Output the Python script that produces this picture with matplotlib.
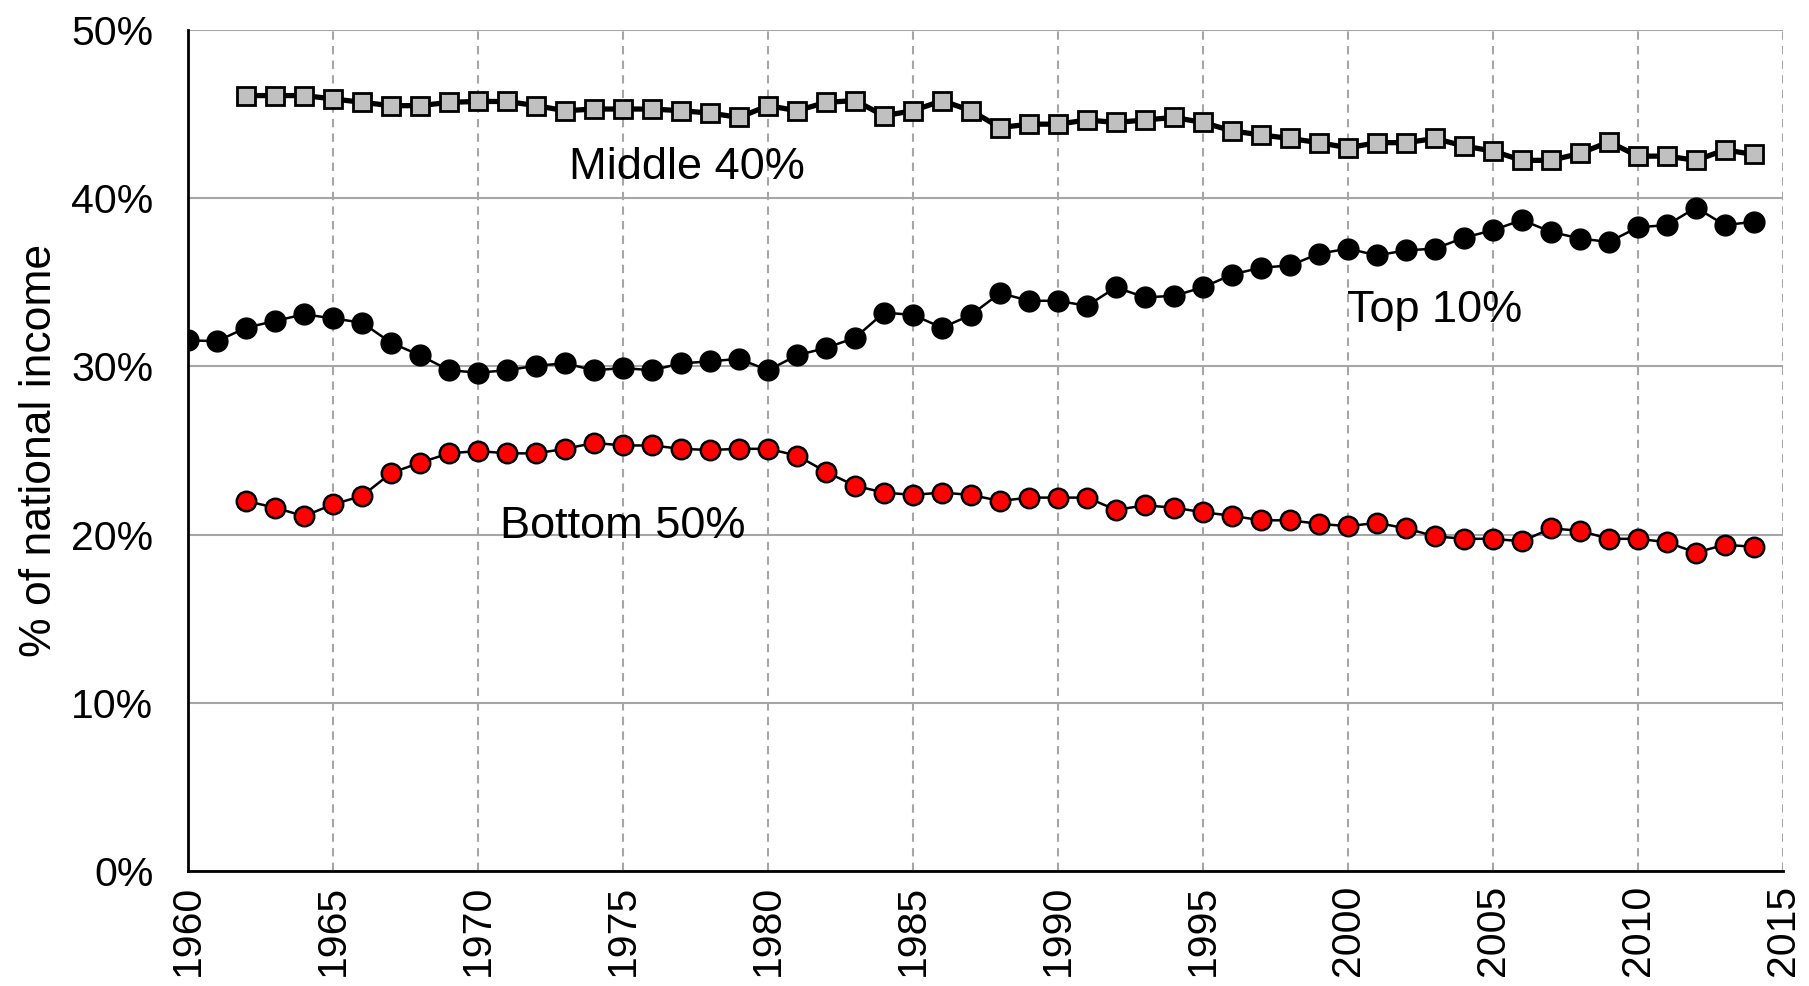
import numpy as np
from matplotlib import pyplot as plt
from matplotlib.ticker import FuncFormatter

plt.rcParams['font.family'] = ['Liberation Sans', 'DejaVu Sans']

years_top = list(range(1960, 2015))
top10 = [31.55, 31.5, 32.3, 32.7, 33.1, 32.85, 32.6, 31.4, 30.66, 29.77,
         29.63, 29.77, 30.04, 30.18, 29.77, 29.9, 29.77, 30.18, 30.3, 30.45,
         29.77, 30.66, 31.1, 31.7, 33.2, 33.06, 32.3, 33.06, 34.36, 33.9,
         33.9, 33.6, 34.7, 34.1, 34.2, 34.7, 35.46, 35.87, 36.0, 36.7,
         37.0, 36.6, 36.9, 37.0, 37.65, 38.1, 38.7, 38.0, 37.6, 37.4,
         38.27, 38.4, 39.44, 38.4, 38.6]

years = list(range(1962, 2015))
middle40 = [46.1, 46.1, 46.1, 45.9, 45.7, 45.5, 45.5, 45.7,
            45.75, 45.75, 45.5, 45.2, 45.3, 45.3, 45.3, 45.2, 45.06, 44.8,
            45.5, 45.2, 45.7, 45.8, 44.9, 45.2, 45.8, 45.2, 44.2, 44.4,
            44.4, 44.65, 44.5, 44.65, 44.8, 44.5, 44.0, 43.76, 43.55, 43.3,
            43.0, 43.3, 43.3, 43.55, 43.1, 42.8, 42.25, 42.25, 42.66, 43.35,
            42.5, 42.5, 42.25, 42.87, 42.6]
bottom50 = [22.0, 21.6, 21.1, 21.8, 22.3, 23.66, 24.28, 24.83,
            24.97, 24.83, 24.83, 25.1, 25.45, 25.3, 25.3, 25.1, 25.03, 25.1,
            25.1, 24.7, 23.73, 22.9, 22.5, 22.36, 22.5, 22.36, 22.0, 22.2,
            22.2, 22.2, 21.47, 21.74, 21.6, 21.33, 21.12, 20.85, 20.85, 20.64,
            20.5, 20.7, 20.37, 19.9, 19.75, 19.75, 19.6, 20.37, 20.23, 19.75,
            19.75, 19.55, 18.93, 19.4, 19.27]

fig = plt.figure(figsize=(18.09, 9.86), dpi=100)
ax = fig.add_axes([0.104, 0.1166, 0.8816, 0.853])

ax.plot(years, middle40, '-s', color='black', lw=3.8, markersize=12.5,
        markerfacecolor='#c0c0c0', markeredgecolor='black', markeredgewidth=2, zorder=3)
ax.plot(years_top, top10, '-o', color='black', lw=1.8, markersize=15,
        markerfacecolor='black', markeredgecolor='black', zorder=3)
ax.plot(years, bottom50, '-o', color='black', lw=1.8, markersize=14,
        markerfacecolor='red', markeredgecolor='black', markeredgewidth=1.8, zorder=3)

ax.text(1977.2, 41.8, 'Middle 40%', fontsize=32.5, ha='center', va='center')
ax.text(2003.0, 33.3, 'Top 10%', fontsize=32.5, ha='center', va='center')
ax.text(1975.0, 20.5, 'Bottom 50%', fontsize=32.5, ha='center', va='center')

ax.set_xlim(1960, 2015)
ax.set_ylim(0, 50)
ax.set_xticks(range(1960, 2016, 5))
ax.set_yticks(range(0, 51, 10))
ax.yaxis.set_major_formatter(FuncFormatter(lambda v, p: '%d%%' % v))
ax.tick_params(axis='x', labelrotation=90, labelsize=29.5, length=0, pad=10)
ax.tick_params(axis='y', labelsize=29.5, length=0, pad=25)

ax.grid(axis='y', color='#a6a6a6', lw=1.5, ls='-')
ax.grid(axis='x', color='#a6a6a6', lw=1.5, ls=(0, (4, 3)))
ax.set_axisbelow(True)
for s in ['top', 'right']:
    ax.spines[s].set_visible(False)
ax.spines['left'].set_linewidth(2)
ax.spines['bottom'].set_linewidth(2)

ax.set_ylabel('% of national income', fontsize=32, labelpad=8)

plt.savefig('out.png', dpi=100)
